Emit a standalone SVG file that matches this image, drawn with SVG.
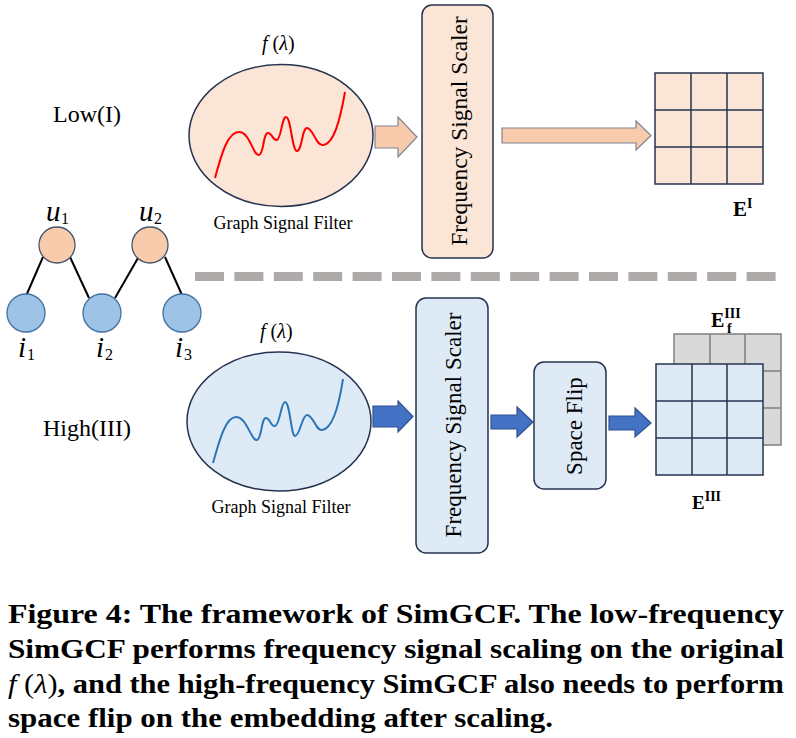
<svg xmlns="http://www.w3.org/2000/svg" width="796" height="738" viewBox="0 0 796 738">
<style>
.t{font-family:"Liberation Serif","Times New Roman",serif;fill:#000}
.m{font-family:"Liberation Serif","Times New Roman",serif;font-style:italic;fill:#000}
.b{font-family:"Liberation Serif","Times New Roman",serif;font-weight:bold;fill:#000}
.pk{fill:#fbe5d6;stroke:#263350;stroke-width:1.5}
.bl{fill:#deebf7;stroke:#263350;stroke-width:1.5}
.pa{fill:#f8cbad;stroke:#7f8494;stroke-width:1.2}
.ba{fill:#4472c4;stroke:#2f528f;stroke-width:1.2}
.gp{fill:#fbe5d6;stroke:#263350;stroke-width:1.5}
.gb{fill:#deebf7;stroke:#263350;stroke-width:1.5}
.gg{fill:#d9d9d9;stroke:#7f7f7f;stroke-width:1.5}
.cu{fill:#f8cbad;stroke:#44546a;stroke-width:1.3}
.ci{fill:#9dc3e6;stroke:#41719c;stroke-width:1.3}
</style>
<rect width="796" height="738" fill="#fff"/>

<g id="connectors">
  <line x1="43" y1="257" x2="26" y2="296" stroke="#000" stroke-width="2"/>
  <line x1="70" y1="257" x2="89" y2="298" stroke="#000" stroke-width="2"/>
  <line x1="138" y1="258" x2="115" y2="298" stroke="#000" stroke-width="2"/>
  <line x1="165" y1="257" x2="182" y2="295" stroke="#000" stroke-width="2"/>
  <polygon class="pa" points="375,126 398,126 398,117 417,137 398,157 398,148 375,148"/>
  <polygon class="pa" points="502,128 636,128 636,121 651,135.5 636,150 636,143 502,143"/>
  <polygon class="ba" points="373,406 398,406 398,401 413,416.5 398,432 398,427 373,427"/>
  <polygon class="ba" points="491,415 517,415 517,407 533,422 517,437 517,429 491,429"/>
  <polygon class="ba" points="609,416 635,416 635,408 651,423 635,437 635,430 609,430"/>
</g>

<g id="divider">
  <line x1="195" y1="276.5" x2="780" y2="276.5" stroke="#aeaaaa" stroke-width="9" stroke-dasharray="29 10.4"/>
</g>

<g id="label-low"><text class="t" x="53" y="122" font-size="24">Low(I)</text></g>
<g id="label-high"><text class="t" x="43" y="436" font-size="24">High(III)</text></g>

<g id="node-u1">
  <circle class="cu" cx="57" cy="245" r="18"/>
  <text class="m" x="46" y="221" font-size="29">u</text><text class="t" x="61" y="224" font-size="16">1</text>
</g>
<g id="node-u2">
  <circle class="cu" cx="150" cy="245" r="18"/>
  <text class="m" x="139" y="221" font-size="29">u</text><text class="t" x="154" y="224" font-size="16">2</text>
</g>
<g id="node-i1">
  <circle class="ci" cx="26" cy="313" r="19"/>
  <text class="m" x="18" y="357" font-size="29">i</text><text class="t" x="27" y="360" font-size="16">1</text>
</g>
<g id="node-i2">
  <circle class="ci" cx="102" cy="313" r="19"/>
  <text class="m" x="96" y="357" font-size="29">i</text><text class="t" x="105" y="360" font-size="16">2</text>
</g>
<g id="node-i3">
  <circle class="ci" cx="182" cy="313" r="19"/>
  <text class="m" x="175" y="357" font-size="29">i</text><text class="t" x="184" y="360" font-size="16">3</text>
</g>

<g id="filter-low">
  <text class="t" x="262" y="50" font-size="20"><tspan font-style="italic">f</tspan> (<tspan font-style="italic">λ</tspan>)</text>
  <ellipse class="pk" cx="281" cy="135.5" rx="92" ry="71"/>
  <path d="M215,178 C222,152 228,132 239,132 C250,132 253,156 259,155 C264,154 263,133 268,133 C272,133 273,141 277,140 C281,139 282,117 286,117 C291,117 292,151 297,151 C302,151 302,128 307,128 C313,128 316,146 323,145 C334,144 340,120 345,92" fill="none" stroke="#ff0000" stroke-width="2"/>
  <text class="t" x="283" y="229" font-size="18" text-anchor="middle">Graph Signal Filter</text>
</g>

<g id="scaler-low">
  <rect class="pk" x="422" y="5" width="71" height="253" rx="10"/>
  <text class="t" font-size="23.5" text-anchor="middle" transform="translate(467,131) rotate(-90)">Frequency Signal Scaler</text>
</g>

<g id="embed-low">
  <rect class="gp" x="655" y="73" width="108" height="111"/>
  <path d="M691,73V184M727,73V184M655,110H763M655,147H763" stroke="#263350" stroke-width="1.5" fill="none"/>
  <text class="b" x="733" y="216" font-size="21">E<tspan font-size="14" dy="-8">I</tspan></text>
</g>

<g id="filter-high">
  <text class="t" x="260" y="338" font-size="20"><tspan font-style="italic">f</tspan> (<tspan font-style="italic">λ</tspan>)</text>
  <ellipse class="bl" cx="279" cy="421.5" rx="92" ry="69.5"/>
  <path d="M213,463 C220,438 226,417 236,417 C247,417 251,441 257,440 C262,439 261,418 266,418 C270,418 271,427 275,426 C280,425 281,402 285,402 C290,402 291,436 295,436 C300,436 302,415 307,415 C313,415 316,431 322,430 C333,429 339,405 343,379" fill="none" stroke="#2e75b6" stroke-width="2"/>
  <text class="t" x="281" y="513" font-size="18" text-anchor="middle">Graph Signal Filter</text>
</g>

<g id="scaler-high">
  <rect class="bl" x="416" y="298" width="72" height="255" rx="10"/>
  <text class="t" font-size="23" text-anchor="middle" transform="translate(461,425) rotate(-90)">Frequency Signal Scaler</text>
</g>

<g id="space-flip">
  <rect class="bl" x="534" y="362" width="72" height="127" rx="10"/>
  <text class="t" font-size="23" text-anchor="middle" transform="translate(582,426) rotate(-90)">Space Flip</text>
</g>

<g id="embed-flipped">
  <rect class="gg" x="674" y="334" width="107" height="111"/>
  <path d="M710,334V364M745,334V364M763,371H781M763,408H781" stroke="#7f7f7f" stroke-width="1.5" fill="none"/>
  <text class="b" x="711" y="327" font-size="20">E<tspan font-size="14" dy="-9">III</tspan><tspan font-size="14" x="727" dy="15">f</tspan></text>
</g>

<g id="embed-high">
  <rect class="gb" x="656" y="364" width="107" height="111"/>
  <path d="M692,364V475M727,364V475M656,401H763M656,438H763" stroke="#263350" stroke-width="1.5" fill="none"/>
  <text class="b" x="692" y="509" font-size="19">E<tspan font-size="14" dy="-8">III</tspan></text>
</g>

<g id="caption">
  <text class="b" x="8" y="623" font-size="28" textLength="776" lengthAdjust="spacingAndGlyphs">Figure 4: The framework of SimGCF. The low-frequency</text>
  <text class="b" x="8" y="658" font-size="28" textLength="776" lengthAdjust="spacingAndGlyphs">SimGCF performs frequency signal scaling on the original</text>
  <text class="b" x="8" y="693" font-size="28" textLength="776" lengthAdjust="spacingAndGlyphs"><tspan font-style="italic" font-weight="normal">f</tspan><tspan font-weight="normal"> (</tspan><tspan font-style="italic" font-weight="normal">λ</tspan><tspan font-weight="normal">)</tspan>, and the high-frequency SimGCF also needs to perform</text>
  <text class="b" x="8" y="727" font-size="28" textLength="545" lengthAdjust="spacingAndGlyphs">space flip on the embedding after scaling.</text>
</g>
</svg>
